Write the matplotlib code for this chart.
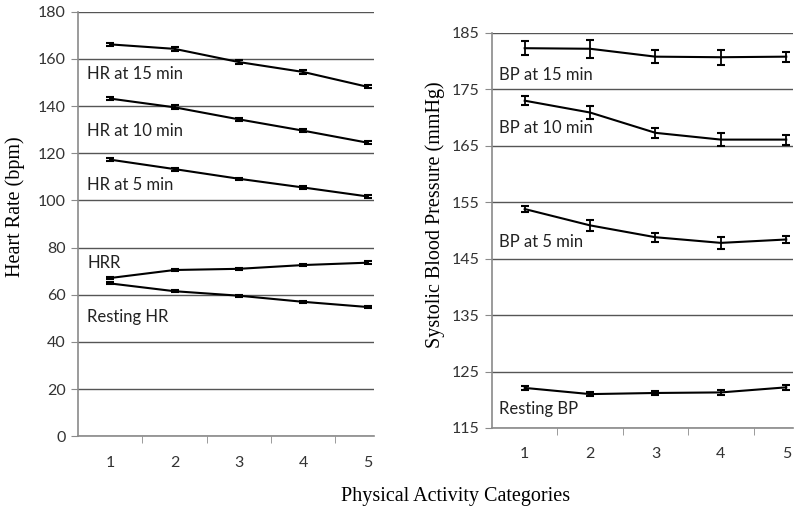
import numpy as np
import matplotlib.pyplot as plt

# Physical activity categories
categories = [1, 2, 3, 4, 5]

# Heart rate series (bpm): mean and error
hr_15 = [166.2, 164.3, 158.7, 154.5, 148.2]
hr_15_err = [0.7, 0.9, 0.8, 0.7, 0.6]
hr_10 = [143.2, 139.5, 134.4, 129.6, 124.5]
hr_10_err = [0.7, 0.8, 0.6, 0.7, 0.6]
hr_5 = [117.3, 113.3, 109.2, 105.5, 101.7]
hr_5_err = [0.6, 0.6, 0.5, 0.6, 0.6]
hrr = [67.1, 70.5, 71.0, 72.6, 73.6]
hrr_err = [0.6, 0.6, 0.5, 0.6, 0.6]
rest_hr = [64.8, 61.5, 59.6, 57.0, 54.8]
rest_hr_err = [0.4, 0.4, 0.4, 0.4, 0.5]

# Systolic blood pressure series (mmHg)
bp_15 = [182.3, 182.2, 180.8, 180.7, 180.8]
bp_15_err = [1.2, 1.6, 1.1, 1.3, 0.9]
bp_10 = [173.0, 170.9, 167.3, 166.1, 166.1]
bp_10_err = [0.8, 1.2, 0.9, 1.2, 0.9]
bp_5 = [153.8, 150.9, 148.8, 147.8, 148.4]
bp_5_err = [0.6, 1.0, 0.8, 1.0, 0.7]
rest_bp = [122.1, 121.0, 121.2, 121.3, 122.2]
rest_bp_err = [0.3, 0.4, 0.4, 0.4, 0.4]

hr_series = [(hr_15, hr_15_err, "HR at 15 min", 153.5),
             (hr_10, hr_10_err, "HR at 10 min", 129.5),
             (hr_5, hr_5_err, "HR at 5 min", 106.5),
             (hrr, hrr_err, "HRR", 73.5),
             (rest_hr, rest_hr_err, "Resting HR", 50.5)]
bp_series = [(bp_15, bp_15_err, "BP at 15 min", 177.6),
             (bp_10, bp_10_err, "BP at 10 min", 168.1),
             (bp_5, bp_5_err, "BP at 5 min", 148.0),
             (rest_bp, rest_bp_err, "Resting BP", 118.3)]

sans = "Lato"
serif = "Liberation Serif"
grid_col = "#555555"
spine_col = "#8a8a8a"

fig = plt.figure(figsize=(8, 5.15), dpi=100)
ax1 = fig.add_axes([0.0975, 0.153, 0.37, 0.824])
ax2 = fig.add_axes([0.615, 0.169, 0.376, 0.767])


def style_axis(ax, ylim, yticks):
    ax.set_xlim(0.5, 5.1)
    ax.set_ylim(*ylim)
    ax.set_yticks(yticks)
    ax.set_xticks(categories)
    ax.set_xticks([1.5, 2.5, 3.5, 4.5], minor=True)
    ax.tick_params(axis="x", which="major", length=0, pad=14, labelsize=11.5)
    ax.tick_params(axis="x", which="minor", length=5, color=spine_col, direction="out")
    ax.tick_params(axis="y", length=5, color=spine_col, labelsize=11.5, pad=4)
    for lbl in ax.get_xticklabels() + ax.get_yticklabels():
        lbl.set_fontfamily(sans)
        lbl.set_color("#333333")
    for s in ["top", "right"]:
        ax.spines[s].set_visible(False)
    for s in ["left", "bottom"]:
        ax.spines[s].set_color(spine_col)
        ax.spines[s].set_linewidth(1.2)
    ax.yaxis.grid(True, color=grid_col, linewidth=1.0)
    ax.set_axisbelow(True)


style_axis(ax1, (0, 180), range(0, 181, 20))
style_axis(ax2, (115, 185), range(115, 186, 10))

for vals, err, name, ty in hr_series:
    ax1.errorbar(categories, vals, yerr=err, color="black", lw=1.5,
                 capsize=3, elinewidth=1.3, capthick=1.5)
    ax1.text(0.64, ty, name, fontsize=12, family=sans, color="#222222", va="center")

for vals, err, name, ty in bp_series:
    ax2.errorbar(categories, vals, yerr=err, color="black", lw=1.5,
                 capsize=3, elinewidth=1.3, capthick=1.5)
    ax2.text(0.6, ty, name, fontsize=12, family=sans, color="#222222", va="center")

ax1.set_ylabel("Heart Rate (bpm)", fontsize=14.5, family=serif)
ax1.yaxis.set_label_coords(-0.179, 0.54)
ax2.set_ylabel("Systolic Blood Pressure (mmHg)", fontsize=14.5, family=serif)
ax2.yaxis.set_label_coords(-0.156, 0.54)
fig.text(0.57, 0.035, "Physical Activity Categories", ha="center", va="center",
         fontsize=14.5, family=serif)

fig.savefig("out.png", dpi=100)
